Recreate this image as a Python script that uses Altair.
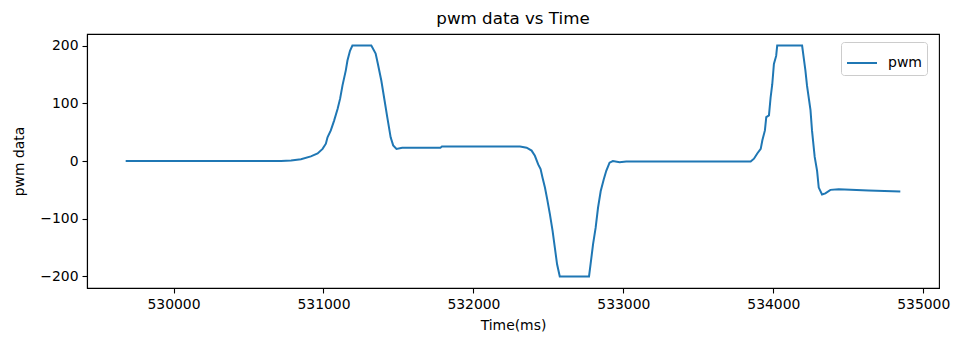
import altair as alt
import pandas as pd

time_ms = [529681, 530717, 530784, 530850, 530916, 530961, 530994, 531016, 531027, 531049,
           531071, 531094, 531111, 531127, 531149, 531160, 531177, 531193, 531319, 531348,
           531363, 531386, 531408, 531426, 531448, 531465, 531487, 531525, 531780, 531790,
           532311, 532355, 532388, 532410, 532432, 532448, 532461, 532477, 532492, 532510,
           532528, 532543, 532558, 532576, 532771, 532787, 532798, 532815, 532831, 532849,
           532869, 532886, 532908, 532930, 532975, 533019, 533849, 533871, 533893, 533916,
           533927, 533944, 533953, 533971, 533982, 533993, 534004, 534019, 534026, 534192,
           534214, 534225, 534248, 534258, 534276, 534292, 534303, 534325, 534347, 534381,
           534436, 534635, 534847]
pwm = [0, 0, 1, 3, 8, 13, 21, 30, 41, 53,
       70, 90, 108, 131, 157, 174, 191, 200, 200, 186,
       168, 139, 104, 75, 41, 27, 21, 23, 23, 25,
       25, 23, 18, 9, -6, -14, -29, -46, -66, -92,
       -121, -150, -179, -200, -200, -167, -144, -116, -81, -52,
       -32, -17, -3, 0, -2, -1, -1, 4, 13, 21,
       36, 53, 76, 79, 110, 133, 168, 182, 200, 200,
       157, 130, 88, 53, 7, -17, -46, -58, -56, -50,
       -49, -51, -53]
x_ticks = [530000, 531000, 532000, 533000, 534000, 535000]
y_ticks = [-200, -100, 0, 100, 200]

df = pd.DataFrame({"Time(ms)": time_ms, "pwm data": pwm, "series": "pwm"})

FONT = "DejaVu Sans"

chart = alt.Chart(df).mark_line(strokeWidth=2).encode(
    x=alt.X("Time(ms):Q",
            scale=alt.Scale(domain=[529423, 535105], nice=False, zero=False),
            axis=alt.Axis(values=x_ticks, format="d", title="Time(ms)")),
    y=alt.Y("pwm data:Q",
            scale=alt.Scale(domain=[-220, 220], nice=False, zero=False),
            axis=alt.Axis(values=y_ticks, format="d", title="pwm data")),
    color=alt.Color("series:N",
                    scale=alt.Scale(domain=["pwm"], range=["#1f77b4"]),
                    legend=alt.Legend(title=None, orient="none", legendX=754, legendY=8,
                                      symbolType="stroke", symbolSize=900,
                                      symbolStrokeWidth=2, labelFontSize=14,
                                      labelFont=FONT, labelColor="black",
                                      strokeColor="#cccccc", fillColor="white",
                                      padding=5, cornerRadius=3, labelOffset=10)),
    order="Time(ms):Q",
).properties(
    width=852, height=254,
    title=alt.Title("pwm data vs Time", fontSize=16.7, font=FONT, fontWeight="normal",
                    color="black", anchor="middle", offset=6),
    autosize=alt.AutoSizeParams(type="none"),
    padding={"left": 79, "top": 26, "right": 30, "bottom": 45},
).configure_axis(
    grid=False, domainColor="black", domainWidth=1.1, tickColor="black", tickWidth=1.1,
    tickSize=5, labelFontSize=13.9, labelFont=FONT, labelColor="black", labelPadding=4,
    titleFontSize=13.9, titleFont=FONT, titleFontWeight="normal", titleColor="black",
).configure_axisX(titlePadding=8).configure_axisY(titlePadding=13).configure_view(
    stroke="black", strokeWidth=1.1
)

chart.save("out.html", embed_options={"renderer": "svg", "actions": False})
